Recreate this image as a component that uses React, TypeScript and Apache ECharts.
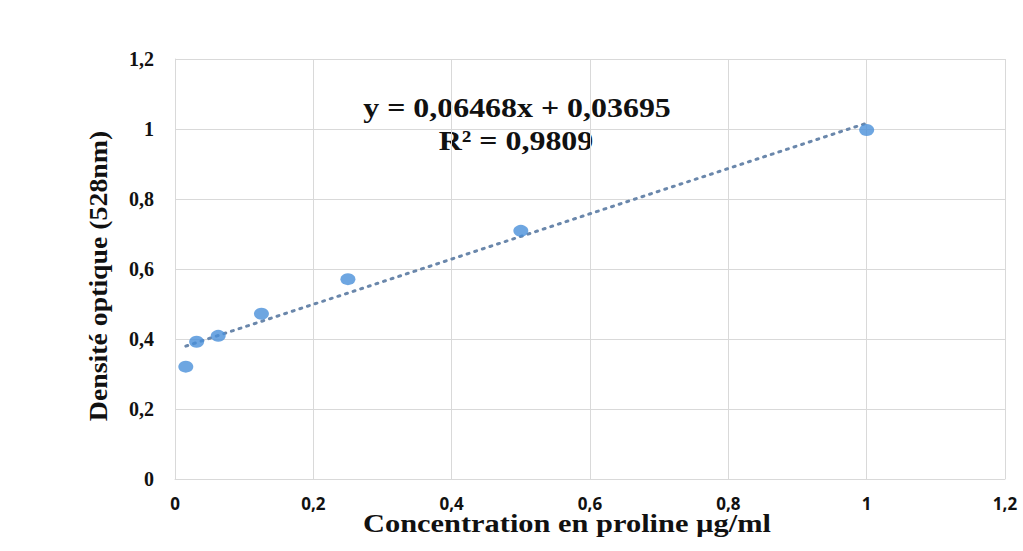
import React, { useEffect, useRef } from "react";
import * as echarts from "echarts";

const concentrations = [0.015625, 0.03125, 0.0625, 0.125, 0.25, 0.5, 1];
const densities = [0.321, 0.392, 0.409, 0.472, 0.571, 0.709, 0.997];
const equationText = "y = 0,06468x + 0,03695";
const r2Text = "R² = 0,9809";
const xTitle = "Concentration en proline µg/ml";
const yTitle = "Densité optique (528nm)";

function fit(xs: number[], ys: number[]) {
  const n = xs.length;
  const mx = xs.reduce((a, b) => a + b, 0) / n;
  const my = ys.reduce((a, b) => a + b, 0) / n;
  let sxy = 0, sxx = 0;
  for (let i = 0; i < n; i++) {
    sxy += (xs[i] - mx) * (ys[i] - my);
    sxx += (xs[i] - mx) ** 2;
  }
  const slope = sxy / sxx;
  return { slope, intercept: my - slope * mx };
}

const fmt = (v: number) => String(Math.round(v * 10) / 10).replace(".", ",");

export default function App() {
  const ref = useRef<HTMLDivElement>(null);
  useEffect(() => {
    if (!ref.current) return;
    const chart = echarts.init(ref.current, null, { renderer: "svg" });
    const { slope, intercept } = fit(concentrations, densities);
    const x0 = concentrations[0];
    const x1 = concentrations[concentrations.length - 1];
    const serif = "'Liberation Serif', 'Times New Roman', serif";
    chart.setOption({
      animation: false,
      backgroundColor: "#ffffff",
      grid: { left: 175, top: 59, right: 18, bottom: 72 },
      xAxis: {
        type: "value",
        min: 0,
        max: 1.2,
        interval: 0.2,
        axisLine: { show: true, lineStyle: { color: "#d9d9d9" } },
        axisTick: { show: false },
        splitLine: { show: true, lineStyle: { color: "#d9d9d9" } },
        axisLabel: {
          formatter: fmt,
          fontFamily: "'Open Sans', sans-serif",
          fontWeight: "bold",
          fontSize: 17,
          color: "#111",
          margin: 16,
        },
      },
      yAxis: {
        type: "value",
        min: 0,
        max: 1.2,
        interval: 0.2,
        axisLine: { show: true, lineStyle: { color: "#d9d9d9" } },
        axisTick: { show: false },
        splitLine: { show: true, lineStyle: { color: "#d9d9d9" } },
        axisLabel: {
          formatter: fmt,
          fontFamily: serif,
          fontWeight: "bold",
          fontSize: 20,
          color: "#111",
          margin: 21,
        },
      },
      series: [
        {
          type: "line",
          data: [
            [x0, slope * x0 + intercept],
            [x1, slope * x1 + intercept],
          ],
          symbol: "none",
          lineStyle: { type: [2, 6], width: 3, color: "#6a87ab", cap: "round" },
          silent: true,
          z: 1,
        },
        {
          type: "scatter",
          data: concentrations.map((x, i) => [x, densities[i]]),
          symbol: "circle",
          symbolSize: [15, 12],
          itemStyle: { color: "#4a90d9" },
          z: 2,
        },
      ],
      graphic: [
        {
          type: "text",
          x: 517,
          y: 107,
          scaleX: 1.14,
          style: {
            text: equationText,
            font: `bold 28px ${serif}`,
            fill: "#111",
            textAlign: "center",
            textVerticalAlign: "middle",
          },
        },
        {
          type: "text",
          x: 516,
          y: 140,
          scaleX: 1.14,
          style: {
            text: r2Text,
            font: `bold 28px ${serif}`,
            fill: "#111",
            textAlign: "center",
            textVerticalAlign: "middle",
          },
        },
        {
          type: "text",
          x: 567,
          y: 523,
          scaleX: 1.17,
          style: {
            text: xTitle,
            font: `bold 26px ${serif}`,
            fill: "#111",
            textAlign: "center",
            textVerticalAlign: "middle",
          },
        },
        {
          type: "text",
          x: 98,
          y: 276,
          rotation: Math.PI / 2,
          scaleX: 1.07,
          style: {
            text: yTitle,
            font: `bold 26px ${serif}`,
            fill: "#111",
            textAlign: "center",
            textVerticalAlign: "middle",
          },
        },
      ],
    });
    return () => chart.dispose();
  }, []);
  return (
    <div
      ref={ref}
      style={{ position: "absolute", left: 0, top: 0, width: 1023, height: 551 }}
    />
  );
}
